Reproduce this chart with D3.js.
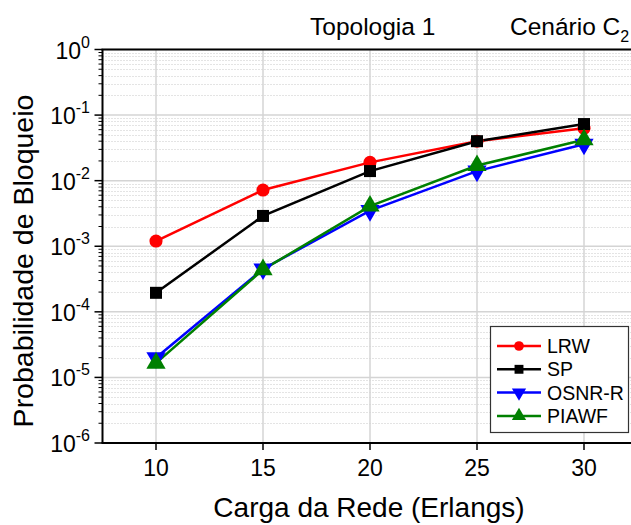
<!DOCTYPE html>
<html><head><meta charset="utf-8">
<script src="https://cdn.jsdelivr.net/npm/d3@7/dist/d3.min.js"></script>
<style>body{margin:0;background:#fff}svg{display:block;font-family:Arial,"Liberation Sans",sans-serif}</style>
</head><body><svg id="c" width="631" height="525"></svg>
<script>
const loads = [10, 15, 20, 25, 30];
const lrw   = [1.2e-3, 7.2e-3, 1.9e-2, 4.0e-2, 6.3e-2];
const sp    = [1.95e-4, 2.9e-3, 1.4e-2, 4.0e-2, 7.3e-2];
const osnr  = [2.0e-5, 4.5e-4, 3.5e-3, 1.4e-2, 3.6e-2];
const piawf = [1.65e-5, 4.4e-4, 4.1e-3, 1.7e-2, 4.2e-2];
const seriesNames = ["LRW", "SP", "OSNR-R", "PIAWF"];
const xTicks = [10, 15, 20, 25, 30];
const yExponents = [0, -1, -2, -3, -4, -5, -6];

const series = [
  {name: seriesNames[0], values: lrw, color: "#ff0000", sym: d3.symbolCircle, size: 135},
  {name: seriesNames[1], values: sp, color: "#000000", sym: d3.symbolSquare, size: 144},
  {name: seriesNames[2], values: osnr, color: "#0000ff", sym: "down", size: 160},
  {name: seriesNames[3], values: piawf, color: "#008000", sym: d3.symbolTriangle, size: 160}
];

const svg = d3.select("#c");
const L = 102.5, T = 49.5, B = 443;
const x = d3.scaleLinear().domain([7.5, 32.5]).range([L, 637.5]);
const y = d3.scaleLog().domain([1e-6, 1]).range([B, T]);

// grid
const g = svg.append("g");
for (let e = -6; e < 0; e++) {
  for (let m = 2; m <= 9; m++) {
    const v = m * Math.pow(10, e);
    g.append("line").attr("x1", L).attr("x2", 631).attr("y1", Math.round(y(v)) + 0.5).attr("y2", Math.round(y(v)) + 0.5)
      .attr("stroke", "#c8c8c8").attr("stroke-width", 1).attr("stroke-dasharray", "1,2");
  }
}
yExponents.forEach(e => {
  g.append("line").attr("x1", L).attr("x2", 631).attr("y1", y(Math.pow(10, e))).attr("y2", y(Math.pow(10, e)))
    .attr("stroke", "#d4d4d4").attr("stroke-width", 1.5);
});
xTicks.forEach(t => {
  g.append("line").attr("x1", x(t)).attr("x2", x(t)).attr("y1", T).attr("y2", B)
    .attr("stroke", "#d4d4d4").attr("stroke-width", 1.5);
});

// axes
const ax = svg.append("g").attr("stroke", "#000");
ax.append("line").attr("x1", L).attr("x2", L).attr("y1", T).attr("y2", B).attr("stroke-width", 2);
ax.append("line").attr("x1", L - 1).attr("x2", 631).attr("y1", B).attr("y2", B).attr("stroke-width", 2);
ax.append("line").attr("x1", L - 1).attr("x2", 631).attr("y1", T).attr("y2", T).attr("stroke-width", 2);
xTicks.forEach(t => {
  ax.append("line").attr("x1", x(t)).attr("x2", x(t)).attr("y1", B).attr("y2", B + 7).attr("stroke-width", 1.5);
  svg.append("text").attr("x", x(t)).attr("y", B + 33).attr("text-anchor", "middle")
    .attr("font-size", 23).text(t);
});
for (let e = -6; e < 0; e++) {
  for (let m = 2; m <= 9; m++) {
    const v = m * Math.pow(10, e);
    ax.append("line").attr("x1", L - 4).attr("x2", L).attr("y1", y(v)).attr("y2", y(v)).attr("stroke-width", 1);
  }
}
yExponents.forEach(e => {
  const yy = y(Math.pow(10, e));
  ax.append("line").attr("x1", L - 8).attr("x2", L).attr("y1", yy).attr("y2", yy).attr("stroke-width", 1.5);
  const tx = svg.append("text").attr("x", 90).attr("y", yy + 9).attr("text-anchor", "end").attr("font-size", 23);
  tx.append("tspan").text("10");
  tx.append("tspan").attr("dy", -11).attr("font-size", 16).text(String(e));
});

// lines & markers
const line = d3.line().x((d, i) => x(loads[i])).y(d => y(d));
function sym(s, k) {
  return d3.symbol(s.sym === "down" ? d3.symbolTriangle : s.sym, s.size * k)();
}
series.forEach(s => {
  svg.append("path").attr("d", line(s.values)).attr("fill", "none").attr("stroke", s.color).attr("stroke-width", 2.5);
});
series.forEach(s => {
  s.values.forEach((v, i) => {
    svg.append("path").attr("d", sym(s, 1))
      .attr("transform", `translate(${x(loads[i])},${y(v)})` + (s.sym === "down" ? " rotate(180)" : ""))
      .attr("fill", s.color);
  });
});

// legend
const lg = svg.append("g");
lg.append("rect").attr("x", 490.5).attr("y", 326.5).attr("width", 138).attr("height", 106)
  .attr("fill", "#fff").attr("stroke", "#333").attr("stroke-width", 1.2);
series.forEach((s, i) => {
  const yy = 346 + i * 23.3;
  lg.append("line").attr("x1", 497).attr("x2", 541).attr("y1", yy).attr("y2", yy).attr("stroke", s.color).attr("stroke-width", 2.5);
  lg.append("path").attr("d", sym(s, 0.55))
    .attr("transform", `translate(519,${yy})` + (s.sym === "down" ? " rotate(180)" : "")).attr("fill", s.color);
  lg.append("text").attr("x", 547).attr("y", yy + 7).attr("font-size", 19.5).text(s.name);
});

// labels
svg.append("text").attr("x", 310).attr("y", 35).attr("font-size", 24.5).text("Topologia 1");
const ct = svg.append("text").attr("x", 510).attr("y", 35).attr("font-size", 24.5);
ct.append("tspan").text("Cenário C");
ct.append("tspan").attr("dy", 7).attr("font-size", 16).text("2");
svg.append("text").attr("x", 369).attr("y", 517).attr("text-anchor", "middle").attr("font-size", 28).text("Carga da Rede (Erlangs)");
svg.append("text").attr("transform", "translate(33,261) rotate(-90)").attr("text-anchor", "middle").attr("font-size", 28.5).text("Probabilidade de Bloqueio");
</script></body></html>
